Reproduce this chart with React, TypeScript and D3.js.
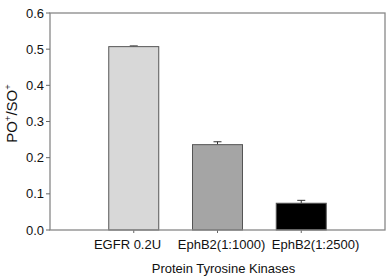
import React from 'react';
import * as d3 from 'd3';

const categories = ['EGFR 0.2U', 'EphB2(1:1000)', 'EphB2(1:2500)'];
const values = [0.507, 0.236, 0.074];
const errors = [0.002, 0.008, 0.008];
const barColors = ['#d8d8d8', '#a5a5a5', '#000000'];
const yTicks = [0, 0.1, 0.2, 0.3, 0.4, 0.5, 0.6];

const width = 392;
const height = 278;
const margin = { top: 13, right: 7, bottom: 48, left: 50 };

export default function App() {
  const innerW = width - margin.left - margin.right;
  const innerH = height - margin.top - margin.bottom;

  // categories sit at positions 1..3 of a 0..4 axis
  const x = d3.scaleLinear().domain([0, categories.length + 1]).range([0, innerW]);
  const y = d3.scaleLinear().domain([0, 0.6]).range([innerH, 0]);
  // tick labels are spread a bit wider than the bars
  const xLabel = d3.scalePoint<string>().domain(categories).range([77.5, 265.5]);
  const barW = 50;
  const font = '"Liberation Sans", Arial, sans-serif';

  return (
    <svg width={width} height={height} style={{ position: 'absolute', left: 0, top: 0 }}>
      <g transform={`translate(${margin.left},${margin.top})`} fontFamily={font}>
        {categories.map((c, i) => {
          const cx = x(i + 1);
          const top = y(values[i]);
          const errTop = y(values[i] + errors[i]);
          return (
            <g key={c}>
              <line x1={cx} x2={cx} y1={top} y2={errTop} stroke="#333" strokeWidth={1} />
              <line x1={cx - 4} x2={cx + 4} y1={errTop} y2={errTop} stroke="#333" strokeWidth={1} />
              <rect x={cx - barW / 2} y={top} width={barW} height={innerH - top}
                fill={barColors[i]} stroke="#555" strokeWidth={1} />
              <line x1={cx} x2={cx} y1={innerH} y2={innerH + 3} stroke="#666" />
              <text x={xLabel(c)} y={innerH + 19} textAnchor="middle" fontSize={13} fill="#111">{c}</text>
            </g>
          );
        })}
        <rect x={0} y={0} width={innerW} height={innerH} fill="none" stroke="#888" strokeWidth={1.3} />
        {yTicks.map(t => (
          <g key={t}>
            <line x1={-4} x2={0} y1={y(t)} y2={y(t)} stroke="#666" />
            <text x={-6} y={y(t)} dy="0.35em" textAnchor="end" fontSize={13} fill="#111">{t.toFixed(1)}</text>
          </g>
        ))}
        <text x={innerW / 2 + 6} y={innerH + 43} textAnchor="middle" fontSize={13} fill="#111">
          Protein Tyrosine Kinases
        </text>
        <text transform={`translate(${-33.5},${100.5}) rotate(-90)`} textAnchor="middle" fontSize={15} fill="#111">
          PO<tspan dy="-6" fontSize={9.5}>+</tspan><tspan dy="6">/SO</tspan><tspan dy="-6" fontSize={9.5}>+</tspan>
        </text>
      </g>
    </svg>
  );
}
